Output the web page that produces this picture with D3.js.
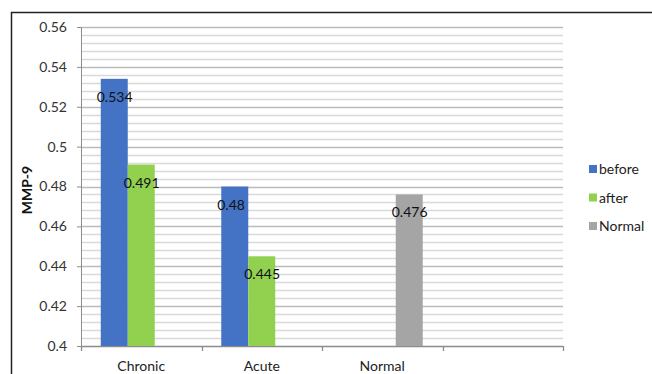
<!DOCTYPE html>
<html>
<head>
<meta charset="utf-8">
<script src="https://cdn.jsdelivr.net/npm/d3@7"></script>
<style>
  html, body { margin: 0; padding: 0; background: #fff; }
  svg { display: block; font-family: Lato, "Open Sans", sans-serif; }
</style>
</head>
<body>
<svg id="chart" width="652" height="374"></svg>
<script>
// Category slots along the x axis (last slot is left empty)
const categories = ["Chronic", "Acute", "Normal", ""];
const seriesNames = ["before", "after", "Normal"];
const seriesColors = ["#4472C4", "#92D050", "#A5A5A5"];
// MMP-9 values per series, one entry per category (null = no bar)
const beforeValues = [0.534, 0.48, null, null];
const afterValues = [0.491, 0.445, null, null];
const normalValues = [null, null, 0.476, null];
const yTicks = [0.4, 0.42, 0.44, 0.46, 0.48, 0.5, 0.52, 0.54, 0.56];
const yLabel = "MMP-9";

const series = [beforeValues, afterValues, normalValues];

const svg = d3.select("#chart");
const margin = { left: 81, right: 89, top: 27, bottom: 28 };
const W = 652, H = 374;
const plotW = W - margin.left - margin.right;
const plotH = H - margin.top - margin.bottom;

// outer frame (top and left edges visible)
svg.append("path")
  .attr("d", `M11.5,${H} V12.5 H${W}`)
  .attr("fill", "none").attr("stroke", "#222").attr("stroke-width", 1.5);

const g = svg.append("g").attr("transform", `translate(${margin.left},${margin.top})`);

const y = d3.scaleLinear().domain([0.4, 0.56]).range([plotH, 0]);
const x0 = d3.scaleBand().domain(d3.range(categories.length)).range([0, plotW]).paddingInner(0).paddingOuter(0);
const groupPad = 0.164;
const x1 = d3.scaleBand().domain(d3.range(seriesNames.length))
  .range([x0.bandwidth() * groupPad, x0.bandwidth() * (1 - groupPad)]).padding(0);

// minor gridlines
const minorTicks = d3.range(0, 41).map(i => 0.4 + i * 0.004).filter(v => Math.abs((v - 0.4) / 0.02 - Math.round((v - 0.4) / 0.02)) > 1e-6);
g.append("g").selectAll("line").data(minorTicks).join("line")
  .attr("x1", 0).attr("x2", plotW)
  .attr("y1", d => Math.round(y(d)) + 0.5).attr("y2", d => Math.round(y(d)) + 0.5)
  .attr("stroke", "#d9d9d9").attr("stroke-width", 1.4);

// major gridlines
g.append("g").selectAll("line").data(yTicks.slice(1)).join("line")
  .attr("x1", 0).attr("x2", plotW)
  .attr("y1", d => Math.round(y(d)) + 0.5).attr("y2", d => Math.round(y(d)) + 0.5)
  .attr("stroke", "#bbbbbb").attr("stroke-width", 1.4);

// y axis
const yAxis = g.append("g").call(d3.axisLeft(y).tickValues(yTicks).tickFormat(d => d3.format("")(+d.toFixed(2))).tickSize(4).tickPadding(10));
yAxis.select(".domain").attr("stroke", "#8c8c8c").attr("d", `M-4,0.5H0.5V${plotH}`);
yAxis.selectAll(".tick line").attr("stroke", "#8c8c8c");
yAxis.selectAll("text").attr("font-size", 14).attr("fill", "#333").attr("font-family", "Lato, sans-serif");

// x axis
const xAxisG = g.append("g").attr("transform", `translate(0,${plotH})`);
xAxisG.append("line").attr("x1", 0).attr("x2", plotW).attr("y1", 0.5).attr("y2", 0.5).attr("stroke", "#8c8c8c").attr("stroke-width", 1.3);
xAxisG.selectAll(".tk").data(d3.range(categories.length + 1)).join("line")
  .attr("x1", i => Math.round(i * x0.step()) + 0.5).attr("x2", i => Math.round(i * x0.step()) + 0.5)
  .attr("y1", 0).attr("y2", 5).attr("stroke", "#8c8c8c").attr("stroke-width", 1.3);
xAxisG.selectAll("text").data(categories).join("text")
  .attr("x", (d, i) => x0(i) + x0.bandwidth() / 2)
  .attr("y", 25)
  .attr("text-anchor", "middle").attr("font-size", 14).attr("fill", "#222")
  .text(d => d);

// bars
series.forEach((vals, s) => {
  const sg = g.append("g");
  const items = vals.map((v, i) => ({ v, i })).filter(d => d.v != null);
  sg.selectAll("rect").data(items).join("rect")
    .attr("x", d => x0(d.i) + x1(s))
    .attr("y", d => y(d.v))
    .attr("width", x1.bandwidth())
    .attr("height", d => plotH - y(d.v))
    .attr("fill", seriesColors[s]);
  sg.selectAll("text").data(items).join("text")
    .attr("x", d => x0(d.i) + x1(s) - 4)
    .attr("y", d => y(d.v) + 23)
    .attr("font-size", 14).attr("fill", "#111")
    .text(d => d3.format("")(d.v));
});

// y axis title
svg.append("text")
  .attr("transform", `translate(32,190) rotate(-90)`)
  .attr("text-anchor", "middle").attr("font-size", 14).attr("font-weight", "bold").attr("fill", "#111")
  .text(yLabel);

// legend
const legend = svg.append("g").attr("transform", "translate(589,169)");
seriesNames.forEach((name, i) => {
  const row = legend.append("g").attr("transform", `translate(0,${i * 28.5})`);
  row.append("rect").attr("x", 0).attr("y", -4).attr("width", 8).attr("height", 8).attr("fill", seriesColors[i]);
  row.append("text").attr("x", 10).attr("y", 5).attr("font-size", 14).attr("fill", "#222").text(name);
});
</script>
</body>
</html>
